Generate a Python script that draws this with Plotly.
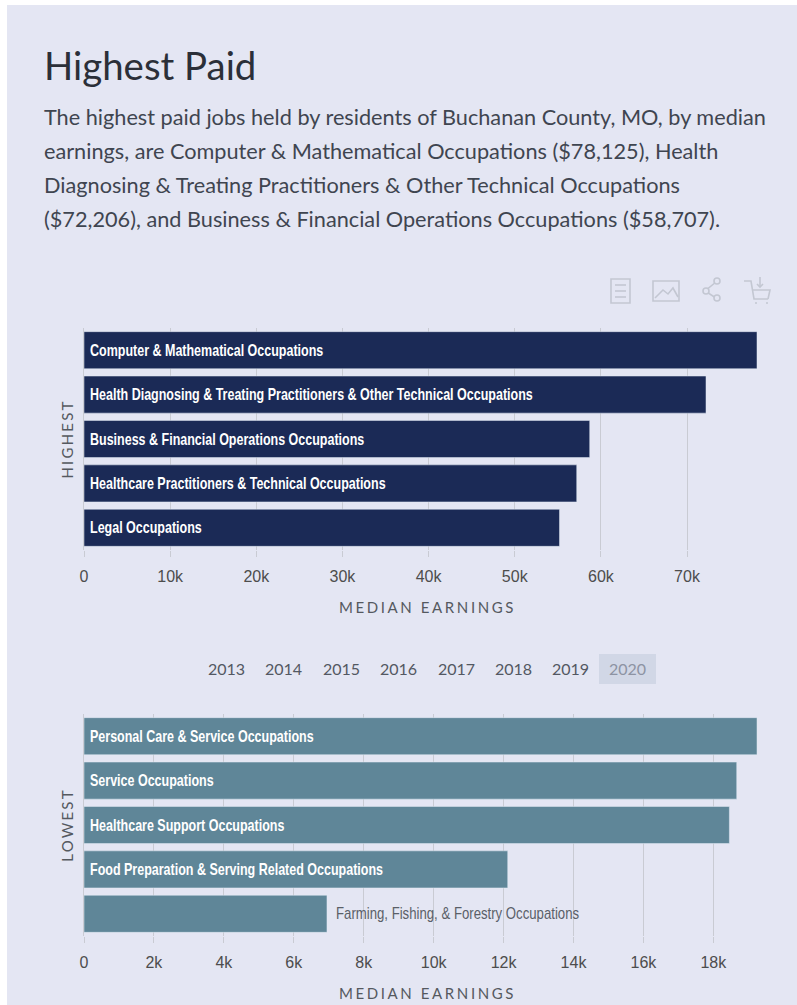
import plotly.graph_objects as go

W, H = 797, 1005
high_jobs = ["Computer & Mathematical Occupations",
             "Health Diagnosing & Treating Practitioners & Other Technical Occupations",
             "Business & Financial Operations Occupations",
             "Healthcare Practitioners & Technical Occupations",
             "Legal Occupations"]
high_pay = [78125, 72206, 58707, 57200, 55200]
low_jobs = ["Personal Care & Service Occupations", "Service Occupations",
            "Healthcare Support Occupations",
            "Food Preparation & Serving Related Occupations",
            "Farming, Fishing, & Forestry Occupations"]
low_pay = [19250, 18670, 18460, 12120, 6950]
years = ["2013", "2014", "2015", "2016", "2017", "2018", "2019", "2020"]
year_x = [226, 283, 341, 398, 456, 513, 570, 627]
title = "Highest Paid"
body = ["The highest paid jobs held by residents of Buchanan County, MO, by median",
        "earnings, are Computer & Mathematical Occupations ($78,125), Health",
        "Diagnosing & Treating Practitioners & Other Technical Occupations",
        "($72,206), and Business & Financial Operations Occupations ($58,707)."]

BG, NAVY, TEAL = "#e4e6f3", "#1b2a56", "#5f8698"
GRID, TICK, TEXT = "#c9cbd3", "#4d4d4d", "#3f4550"
BARFONT = "Liberation Sans, sans-serif"
BODY = "Lato, Noto Sans, sans-serif"

px = lambda x: x / W
py = lambda y: 1 - y / H
PLOT_L, PLOT_R = 84, 771
top_dom = [py(550), py(328)]
bot_dom = [py(936), py(714)]

fig = go.Figure()
fig.add_bar(y=high_jobs, x=high_pay, orientation="h", marker_color=NAVY, xaxis="x", yaxis="y",
            hovertemplate="%{y}: $%{x:,}<extra></extra>")
fig.add_bar(y=low_jobs, x=low_pay, orientation="h", marker_color=TEAL, xaxis="x2", yaxis="y2",
            hovertemplate="%{y}: $%{x:,}<extra></extra>")

ann = []
def text(x, y, s, size, color, font=BODY, xanchor="left"):
    ann.append(dict(x=px(x), y=py(y), xref="paper", yref="paper", text=s, showarrow=False,
                    xanchor=xanchor, yanchor="middle", font=dict(size=size, color=color, family=font)))

text(42, 65, title, 38.4, "#2b2f38")
for i, line in enumerate(body):
    text(42, 117 + 34 * i, line, 21.7, TEXT)
for y, x in zip(years, year_x):
    text(x, 668, y, 16, "#8d93a3" if y == "2020" else "#535862", xanchor="center")

for jobs, vals, xa, ya in [(high_jobs, high_pay, "x", "y"), (low_jobs, low_pay, "x2", "y2")]:
    for j, v in zip(jobs, vals):
        outside = j.startswith("Farming")
        ann.append(dict(x=v if outside else 0, y=j, xref=xa, yref=ya, text=j, showarrow=False,
                        xanchor="left", yanchor="middle", xshift=7 if outside else 4,
                        font=dict(size=17, family=BARFONT, weight=400 if outside else 700,
                                  color="#5a5f68" if outside else "white")))

axis_x = dict(showgrid=True, gridcolor=GRID, gridwidth=1, zeroline=False, ticks="outside", ticklen=6,
              tickcolor=GRID, tickformat="~s", showline=False, ticklabelstandoff=6,
              tickfont=dict(size=16, color=TICK, family="Liberation Sans"),
              title=dict(text="MEDIAN EARNINGS", standoff=18, font=dict(size=15, color="#55595f", family=BODY)))
axis_y = dict(autorange=False, range=[4.5, -0.5], showticklabels=False, ticks="", showgrid=False, zeroline=False,
              showline=True, linecolor=GRID, linewidth=1,
              title=dict(standoff=5, font=dict(size=15, color="#55595f", family=BODY)))

ox = lambda d: dict(domain=[px(PLOT_L), px(PLOT_R)], **d)
shapes = [dict(type="rect", xref="paper", yref="paper", x0=px(7), x1=1, y0=0, y1=py(5),
               fillcolor=BG, line_width=0, layer="below"),
          dict(type="rect", xref="paper", yref="paper", x0=px(599), x1=px(656), y0=py(684), y1=py(654),
               fillcolor="#d1d7e6", line_width=0, layer="below")]

def icon(path):
    import re
    toks = re.findall(r"[MLZ]|-?\d+\.?\d*", path)
    out, isx = [], True
    for t in toks:
        if t in "MLZ":
            out.append(t); isx = True
        else:
            out.append(str(px(float(t)) if isx else py(float(t)))); isx = not isx
    shapes.append(dict(type="path", xref="paper", yref="paper", path=" ".join(out),
                       line=dict(color="#c3c7d2", width=1.6), layer="above"))

# toolbar icons (table, image, share, cart)
icon("M611 279 L630 279 L630 303 L611 303 Z")
icon("M615 285 L626 285"); icon("M615 291 L626 291"); icon("M615 297 L626 297")
icon("M653 281 L679 281 L679 301 L653 301 Z")
icon("M655 298 L663 290 L668 294 L673 288 L678 297")
icon("M716 282 L705 291 L716 298")
icon("M744 281 L751 281 L754 299 L768 299")
icon("M752 290 L770 290 L768 299")
icon("M760 277 L760 287"); icon("M757 284 L760 287 L763 284")
icon("M755 303 L757 303"); icon("M766 303 L768 303")
for cx, cy in [(717, 281), (706, 291), (717, 298)]:
    shapes.append(dict(type="circle", xref="paper", yref="paper", x0=px(cx - 3), x1=px(cx + 3),
                       y0=py(cy + 3), y1=py(cy - 3), fillcolor=BG, line=dict(color="#c3c7d2", width=1.6)))

fig.update_layout(
    width=W, height=H, margin=dict(l=0, r=0, t=0, b=0, autoexpand=False), paper_bgcolor="white", plot_bgcolor=BG,
    showlegend=False, bargap=0.165, annotations=ann, shapes=shapes,
    font=dict(family=BODY),
    xaxis=ox({**axis_x, "range": [0, 79750], "anchor": "y", "dtick": 10000}),
    yaxis=dict(**{**axis_y, "title": dict(axis_y["title"], text="HIGHEST")}, domain=top_dom, anchor="x"),
    xaxis2=ox({**axis_x, "range": [0, 19650], "anchor": "y2", "dtick": 2000}),
    yaxis2=dict(**{**axis_y, "title": dict(axis_y["title"], text="LOWEST")}, domain=bot_dom, anchor="x2"),
)

# Page margin, tracked axis titles, and narrowed bar labels (the condensed face is not installed).
post = """
document.body.style.margin='0';
document.body.style.overflow='hidden';
var s=document.createElement('style');
s.textContent='.xtitle,.x2title{letter-spacing:2.6px}.ytitle,.y2title{letter-spacing:2.2px}';
document.head.appendChild(s);
var gd=document.getElementById('{plot_id}');
function narrow(){
  gd.querySelectorAll('.annotation-text').forEach(function(t){
    var c=t.textContent;
    if(!/Occupations$/.test(c) || c.indexOf('earnings')>=0 || c.indexOf('(')>=0 || c.indexOf('Diagnosing & Treating Practitioners & Other Technical Occupations')==0) return;
    if(t.getAttribute('textLength')) return;
    var len=t.getComputedTextLength(), x=parseFloat(t.getAttribute('x'));
    var k=c.indexOf('Farming')==0?0.775:0.735;
    t.setAttribute('text-anchor','start');
    t.style.textAnchor='start';
    t.setAttribute('x',x-len/2);
    t.setAttribute('textLength',len*k);
    t.setAttribute('lengthAdjust','spacingAndGlyphs');
  });
}
narrow();
gd.on('plotly_afterplot',narrow);
"""
fig.write_html("out.html", post_script=post, config=dict(displayModeBar=False))
